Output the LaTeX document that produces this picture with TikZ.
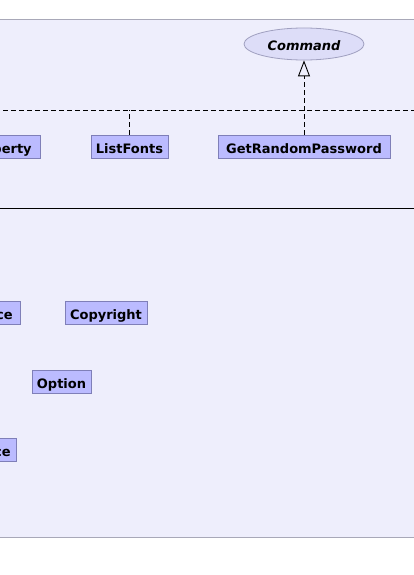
\documentclass[tikz,border=0pt]{standalone}
\usepackage{fontspec}
\setmainfont{DejaVu Sans}
\usetikzlibrary{arrows.meta,shapes.geometric}
\definecolor{bgfill}{HTML}{EEEEFC}
\definecolor{bgline}{HTML}{A8A8B8}
\definecolor{boxfill}{HTML}{BBBBFF}
\definecolor{boxline}{HTML}{7F7FB8}
\definecolor{ellfill}{HTML}{DDDDF8}
\definecolor{ellline}{HTML}{A0A0C0}
\tikzset{
  cls/.style={draw=boxline, fill=boxfill, line width=0.8pt, inner sep=0pt,
    minimum height=23pt, text height=13pt, text depth=0pt,
    font=\bfseries\fontsize{13}{15}\selectfont, text=black},
  iface/.style={draw=ellline, fill=ellfill, ellipse, line width=0.8pt, inner sep=0pt,
    minimum width=120pt, minimum height=32pt, text height=13pt, text depth=0pt,
    font=\bfseries\itshape\fontsize{13}{15}\selectfont},
  dashline/.style={line width=0.9pt, dash pattern=on 5pt off 3pt},
  realize/.style={dashline, -{Triangle[open, length=16pt, width=12pt, line width=0.9pt]}}
}
\begin{document}
\begin{tikzpicture}[x=1pt,y=-1pt]
\useasboundingbox (0,0) rectangle (414,575);
\clip (0,0) rectangle (414,575);
\fill[bgfill] (-5,19.5) rectangle (420,537);
\draw[bgline, line width=1pt] (-5,19.5) -- (420,19.5);
\draw[bgline, line width=1pt] (-5,537) -- (420,537);
\draw[black, line width=1pt] (-5,208.5) -- (420,208.5);
% nodes
\node[iface] (cmd) at (304,44) {Command};
\node[cls, minimum width=172pt] (grp) at (304,146.5) {GetRandomPassword};
\node[cls, minimum width=77pt] (lf) at (129.5,146.5) {ListFonts};
\node[cls, minimum width=60pt, anchor=east] (prop) at (41,146.5) {\hspace*{8pt}perty\hspace*{5pt}};
\node[cls, minimum width=82pt] (copy) at (106,313) {Copyright};
\node[cls, minimum width=59pt] (opt) at (61.5,381.5) {Option};
\node[cls, minimum width=40pt, anchor=east] (ce1) at (20.5,313) {\hspace*{22pt}ce\hspace*{7.5pt}};
\node[cls, minimum width=40pt, anchor=east] (ce2) at (16.5,449.5) {\hspace*{22pt}ce\hspace*{5.5pt}};
% connectors
\coordinate (busL) at (-5,110);
\coordinate (busR) at (420,110);
\coordinate (busLF) at (lf.north |- busL);
\draw[dashline] (busL) -- (busR);
\draw[dashline] (lf.north) -- (busLF);
\draw[realize] (grp.north) -- (cmd.south);
\end{tikzpicture}
\end{document}
